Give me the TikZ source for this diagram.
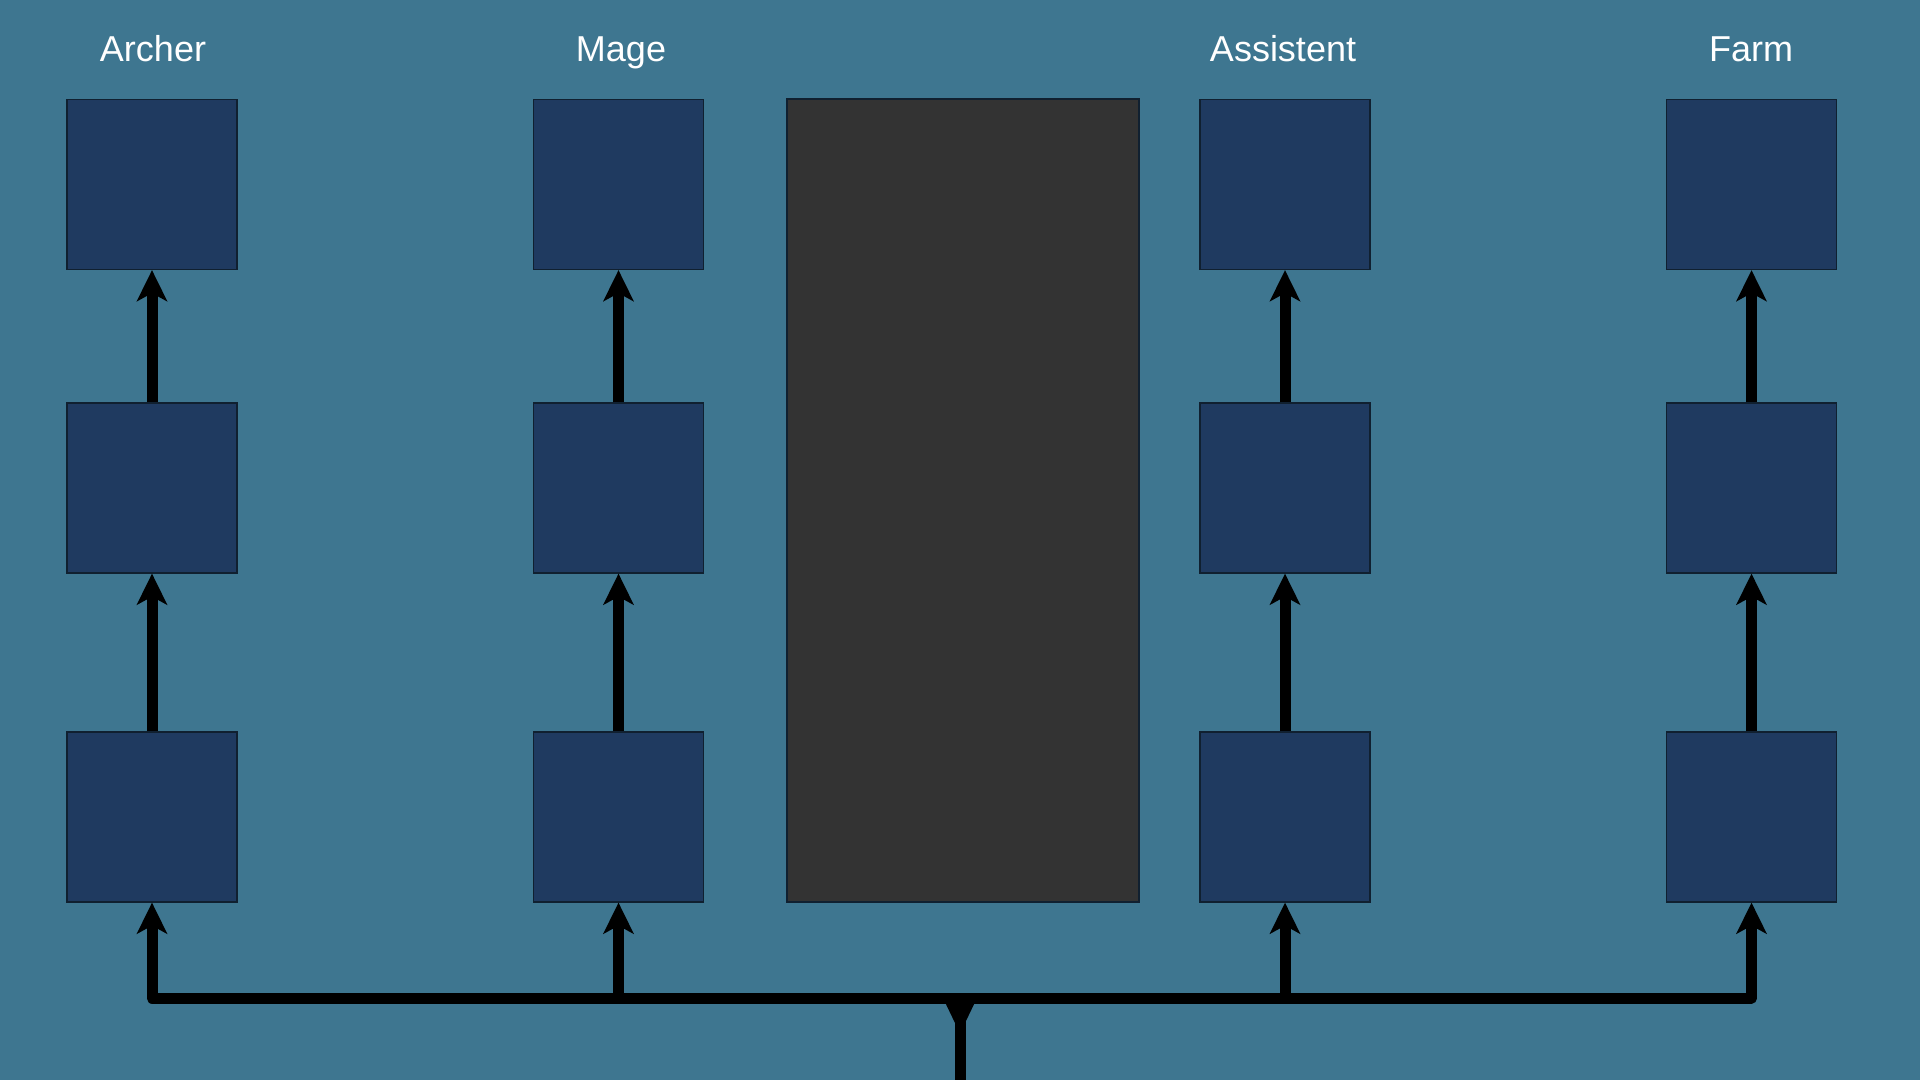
\documentclass[tikz,border=0pt]{standalone}
\usepackage{fontspec}
\setmainfont{Liberation Sans}
\usetikzlibrary{arrows.meta}

\definecolor{bgblue}{RGB}{62,118,144}
\definecolor{boxblue}{RGB}{31,58,96}
\definecolor{boxline}{RGB}{16,32,48}
\definecolor{coregray}{RGB}{51,51,51}

\tikzset{
  unit/.style={draw=boxline,fill=boxblue,line width=0.6pt,minimum size=85pt,inner sep=0pt},
  title/.style={text=white,font=\fontsize{18}{21}\selectfont,anchor=base},
  flow/.style={line width=5.5pt,line join=round,-{Stealth[length=15.5pt,width=15pt,inset=4pt]}},
}

\begin{document}
\begin{tikzpicture}[x=0.5pt,y=-0.5pt]
        \fill[bgblue] (0,0) rectangle (1920,1080);
        \useasboundingbox (0,0) rectangle (1920,1080);

        \node[draw=boxline,fill=coregray,line width=0.6pt,minimum width=176pt,minimum height=401.5pt,inner sep=0pt] (core) at (963,500.5) {};

        \foreach \name/\cx in {archer/152,mage/618.5,assist/1285,farm/1751.5} {
            \node[unit] (\name1) at (\cx,817) {};
            \node[unit] (\name2) at (\cx,488) {};
            \node[unit] (\name3) at (\cx,184.5) {};
            \draw[flow] (\name1) -- (\name2);
            \draw[flow] (\name2) -- (\name3);
        }

        \node[title] (archerlbl) at (153,62) {Archer};
        \node[title] (magelbl) at (621,62) {Mage};
        \node[title] (assistlbl) at (1283,62) {Assistent};
        \node[title] (farmlbl) at (1751,62) {Farm};

        \coordinate (merge) at (960,998);
        \coordinate (root) at (960,1080);
        \draw[line width=5.5pt] (root) -- (merge);
        \fill (943,998) -- (977,998) -- (965,1023) -- (955,1023) -- cycle;
        \foreach \name in {archer,mage,assist,farm} {
            \draw[flow] (merge) -| (\name1);
        }
\end{tikzpicture}
\end{document}
